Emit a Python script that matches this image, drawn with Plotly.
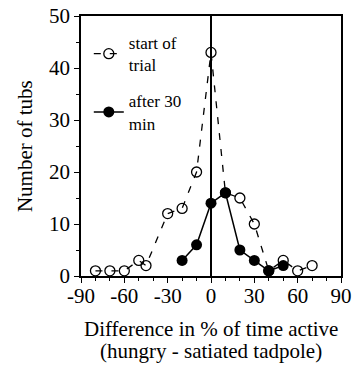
import plotly.graph_objects as go

start_x = [-80, -70, -60, -50, -45, -30, -20, -10, 0, 10, 20, 30, 40, 50, 60, 70]
start_y = [1, 1, 1, 3, 2, 12, 13, 20, 43, 16, 15, 10, 1, 3, 1, 2]
after_x = [-20, -10, 0, 10, 20, 30, 40, 50]
after_y = [3, 6, 14, 16, 5, 3, 1, 2]
x_ticks = [-90, -60, -30, 0, 30, 60, 90]
y_ticks = [0, 10, 20, 30, 40, 50]

FONT = "Liberation Serif, Times New Roman, serif"

fig = go.Figure()
fig.add_trace(go.Scatter(
    x=start_x, y=start_y, mode="lines+markers", name="start of<br>trial",
    legendgroup="a", cliponaxis=False,
    line=dict(color="black", width=1.3, dash="7px,9px"),
    marker=dict(symbol="circle-open", size=10, color="black", line=dict(width=1.3)),
))
fig.add_trace(go.Scatter(
    x=after_x, y=after_y, mode="lines+markers", name="after 30<br>min",
    legendgroup="b", cliponaxis=False,
    line=dict(color="black", width=1.5),
    marker=dict(symbol="circle", size=11, color="black"),
))

axis_common = dict(
    showline=True, linecolor="black", linewidth=1.5, mirror=True, automargin=False,
    showgrid=False, ticks="outside", ticklen=5, tickwidth=1, tickcolor="black",
    tickfont=dict(family=FONT, size=21, color="black"),
)
fig.update_xaxes(
    range=[-90, 90], tickvals=x_ticks, ticktext=[str(v) for v in x_ticks],
    zeroline=True, zerolinecolor="black", zerolinewidth=1.5,
    ticklabelstandoff=-5,
    minor=dict(dtick=10, ticks="outside", ticklen=3, tickcolor="black"),
    **axis_common,
)
fig.update_yaxes(
    range=[0, 50], tickvals=y_ticks, zeroline=False,
    minor=dict(dtick=5, ticks="outside", ticklen=3, tickcolor="black"),
    **axis_common,
)

fig.add_annotation(text="Number of tubs", xref="paper", yref="paper",
                   x=-0.215, y=0.5, xanchor="center", yanchor="middle",
                   textangle=-90, showarrow=False,
                   font=dict(family=FONT, size=21, color="black"))
fig.add_annotation(text="Difference in % of time active", xref="paper", yref="paper",
                   x=0.5, y=-0.204, showarrow=False, yanchor="middle",
                   font=dict(family=FONT, size=21, color="black"))
fig.add_annotation(text="(hungry - satiated tadpole)", xref="paper", yref="paper",
                   x=0.5, y=-0.288, showarrow=False, yanchor="middle",
                   font=dict(family=FONT, size=21, color="black"))

fig.update_layout(
    width=352, height=365,
    margin=dict(l=81, r=11, t=16, b=89, autoexpand=False),
    paper_bgcolor="white", plot_bgcolor="white",
    showlegend=True,
    legend=dict(x=0.03, y=0.965, xanchor="left", yanchor="top",
                bgcolor="rgba(0,0,0,0)", font=dict(family=FONT, size=17, color="black"),
                tracegroupgap=11, traceorder="grouped"),
)

fig.write_html("out.html", config={"displayModeBar": False},
               post_script="document.body.style.margin='0';")
